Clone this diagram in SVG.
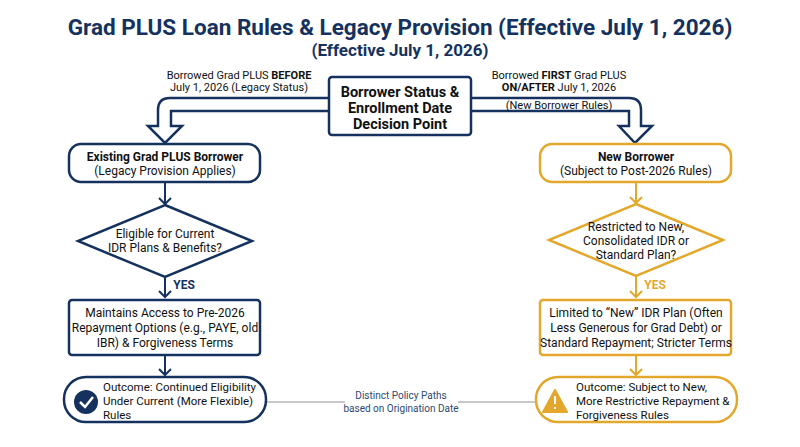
<svg xmlns="http://www.w3.org/2000/svg" width="800" height="447" viewBox="0 0 800 447">
<style>
text{font-family:Roboto,"Liberation Sans",sans-serif;text-anchor:middle;fill:#111}
.n{fill:#fff;stroke:#15325e;stroke-width:2.5}
.g{fill:#fff;stroke:#e3a82b;stroke-width:2.5}
.b{font-weight:bold}
.t{font-size:12px}
.o{font-size:11.5px;text-anchor:start}
.s{font-size:11px}
.ln{fill:none;stroke-width:2}
</style>
<rect width="800" height="447" fill="#fff"/>
<text x="400" y="35" class="b" style="font-size:22.5px;fill:#15325e">Grad PLUS Loan Rules &amp; Legacy Provision (Effective July 1, 2026)</text>
<text x="400" y="56" class="b" style="font-size:17px;fill:#15325e">(Effective July 1, 2026)</text>
<g id="connectors">
<path d="M330 98H170Q158 98 158 110V126H148L165 143L182 126H171V111H330" fill="#fff" stroke="#15325e" stroke-width="2.5" stroke-linejoin="miter"/>
<path d="M470 98H629Q641 98 641 110V126H652L635 143L619 126H629V111H470" fill="#fff" stroke="#15325e" stroke-width="2.5"/>
<path class="ln" stroke="#15325e" d="M165 182V204M159 198L165 204L171 198M165 277V297M159 291L165 297L171 291M165 355V375M159 369L165 375L171 369"/>
<path class="ln" stroke="#e3a82b" d="M636 182V203M630 197L636 203L642 197M636 276V297M630 291L636 297L642 291M636 355V375M630 369L636 375L642 369"/>
<path stroke="#b5b5b5" stroke-width="1.5" d="M266 402H345M458 402H536"/>
</g>
<text x="239" y="79" class="s">Borrowed Grad PLUS <tspan class="b">BEFORE</tspan></text>
<text x="239" y="91" class="s">July 1, 2026 (Legacy Status)</text>
<text x="559" y="79" class="s">Borrowed <tspan class="b">FIRST</tspan> Grad PLUS</text>
<text x="559" y="91" class="s"><tspan class="b">ON/AFTER</tspan> July 1, 2026</text>
<text x="559" y="109" class="s">(New Borrower Rules)</text>
<g id="decision"><rect x="329" y="77" width="142" height="58" rx="3" class="n"/>
<text x="400" y="97" class="b" style="font-size:14.5px">Borrower Status &amp;</text>
<text x="400" y="113" class="b" style="font-size:14.5px">Enrollment Date</text>
<text x="400" y="129" class="b" style="font-size:14.5px">Decision Point</text></g>
<g id="existing"><rect x="69" y="144" width="191" height="38" rx="12" class="n"/>
<text x="165" y="161" class="t b">Existing Grad PLUS Borrower</text><text x="165" y="175" class="t">(Legacy Provision Applies)</text></g>
<g id="new"><rect x="540" y="144" width="191" height="38" rx="12" class="g"/>
<text x="636" y="161" class="t b">New Borrower</text><text x="636" y="175" class="t">(Subject to Post-2026 Rules)</text></g>
<g id="d1"><path d="M165 205L252 241L165 277L78 241Z" class="n"/>
<text x="165" y="238" class="t">Eligible for Current</text><text x="165" y="252" class="t">IDR Plans &amp; Benefits?</text></g>
<g id="d2"><path d="M636 204L723 240L636 276L549 240Z" class="g"/>
<text x="636" y="231" class="t">Restricted to New,</text><text x="636" y="245" class="t">Consolidated IDR or</text><text x="636" y="259" class="t">Standard Plan?</text></g>
<text x="184" y="289" class="t b" style="fill:#15325e">YES</text>
<text x="655" y="289" class="t b" style="fill:#e3a82b">YES</text>
<g id="r1"><rect x="69" y="300" width="191" height="55" rx="3" class="n"/>
<text x="165" y="317" class="t">Maintains Access to Pre-2026</text><text x="165" y="332" class="t">Repayment Options (e.g., PAYE, old</text><text x="165" y="347" class="t">IBR) &amp; Forgiveness Terms</text></g>
<g id="r2"><rect x="540" y="300" width="191" height="55" rx="3" class="g"/>
<text x="636" y="317" class="t">Limited to “New” IDR Plan (Often</text><text x="636" y="332" class="t">Less Generous for Grad Debt) or</text><text x="636" y="347" class="t">Standard Repayment; Stricter Terms</text></g>
<g id="o1"><rect x="64" y="377" width="202" height="45" rx="22" class="n"/>
<circle cx="86" cy="402" r="12" fill="#15325e"/><path d="M80 402L85 407L93 397" fill="none" stroke="#fff" stroke-width="2.5"/>
<text x="103" y="391" class="o">Outcome: Continued Eligibility</text><text x="103" y="405" class="o">Under Current (More Flexible)</text><text x="103" y="419" class="o">Rules</text></g>
<g id="o2"><rect x="536" y="377" width="201" height="45" rx="22" class="g"/>
<path d="M555 390L567 412H543Z" fill="#e3a82b" stroke="#e3a82b" stroke-width="2" stroke-linejoin="round"/><path d="M555 396V404M555 407V409" stroke="#fff" stroke-width="2"/>
<text x="576" y="391" class="o">Outcome: Subject to New,</text><text x="576" y="405" class="o">More Restrictive Repayment &amp;</text><text x="576" y="419" class="o">Forgiveness Rules</text></g>
<text x="401" y="399" style="font-size:10px;fill:#2d4a72">Distinct Policy Paths</text>
<text x="401" y="412" style="font-size:10px;fill:#2d4a72">based on Origination Date</text>
</svg>
